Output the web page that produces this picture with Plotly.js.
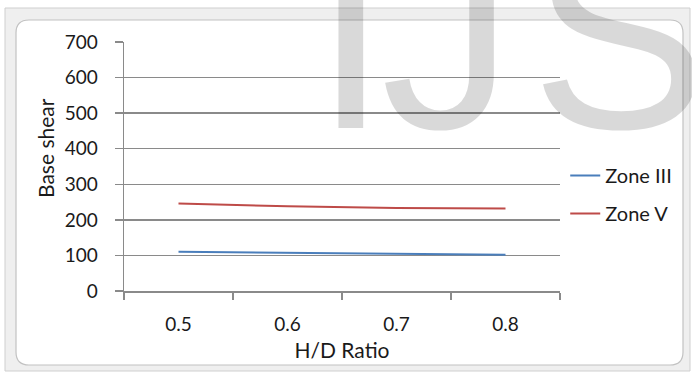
<!DOCTYPE html>
<html>
<head>
<meta charset="utf-8">
<script src="https://cdn.plot.ly/plotly-3.0.1.min.js"></script>
<style>html,body{margin:0;padding:0;background:#fff;}#chart{width:692px;height:374px;}</style>
</head>
<body>
<div id="chart"></div>
<script>
// Data
const hdRatio = [0.5, 0.6, 0.7, 0.8];
const zoneIII = [110, 108, 104, 102];
const zoneV = [246, 238, 233, 232];
const seriesNames = ["Zone III", "Zone V"];
const yTicks = [0, 100, 200, 300, 400, 500, 600, 700];
const xTickLabels = ["0.5", "0.6", "0.7", "0.8"];
const categoryEdges = [0.45, 0.55, 0.65, 0.75, 0.85];
const watermarkLetters = ["I", "J", "S"];

const W = 692, H = 374;
const mL = 124, mR = 132, mT = 42, mB = 83;
const pw = W - mL - mR, ph = H - mT - mB;
const X = px => (px - mL) / pw;
const Y = py => (H - mB - py) / ph;

function roundRect(x0, y0, x1, y1, r) {
  const p = (x, y) => X(x) + ',' + Y(y);
  return 'M' + p(x0 + r, y0) + ' L' + p(x1 - r, y0) + ' Q' + p(x1, y0) + ' ' + p(x1, y0 + r) +
    ' L' + p(x1, y1 - r) + ' Q' + p(x1, y1) + ' ' + p(x1 - r, y1) +
    ' L' + p(x0 + r, y1) + ' Q' + p(x0, y1) + ' ' + p(x0, y1 - r) +
    ' L' + p(x0, y0 + r) + ' Q' + p(x0, y0) + ' ' + p(x0 + r, y0) + ' Z';
}

const font = "Lato, 'Open Sans', sans-serif";
const gridColor = "#8a8a8a";
const textColor = "#1a1a1a";

const traces = [
  {x: hdRatio, y: zoneIII, name: seriesNames[0], type: "scatter", mode: "lines",
   line: {color: "#4A7EBB", width: 2}, legendgroup: "a"},
  {x: hdRatio, y: zoneV, name: seriesNames[1], type: "scatter", mode: "lines",
   line: {color: "#BE4B48", width: 2}, legendgroup: "b"}
];

const wmCenters = [351, 447, 619];
const wmAnnotations = watermarkLetters.map((t, i) => ({
  text: t, xref: "paper", yref: "paper", x: X(wmCenters[i]), y: Y(186),
  xanchor: "center", yanchor: "bottom", showarrow: false,
  font: {family: "'Liberation Sans', Arial, sans-serif", size: 265, color: "rgba(0,0,0,0.15)"}
}));

const layout = {
  width: W, height: H,
  margin: {l: mL, r: mR, t: mT, b: mB, pad: 0},
  paper_bgcolor: "#ffffff",
  plot_bgcolor: "rgba(0,0,0,0)",
  font: {family: font, size: 19, color: textColor},
  showlegend: true,
  legend: {x: 1.012, xanchor: "left", y: Y(156), yanchor: "top",
           bgcolor: "rgba(0,0,0,0)", font: {family: font, size: 20, color: textColor},
           traceorder: "grouped", tracegroupgap: 9, itemwidth: 30},
  xaxis: {
    range: [0.45, 0.85], tickmode: "array", tickvals: hdRatio, ticktext: xTickLabels,
    ticks: "outside", ticklen: 16, tickcolor: "rgba(0,0,0,0)",
    showgrid: false, zeroline: false, showline: true, linecolor: gridColor, linewidth: 1.5,
    minor: {tickmode: "array", tickvals: categoryEdges, ticks: "outside", ticklen: 7,
            tickcolor: gridColor, tickwidth: 1.5, showgrid: false},
    tickfont: {family: font, size: 19, color: textColor},
    title: {text: "H/D Ratio", font: {family: font, size: 21, color: textColor}, standoff: 9},
    fixedrange: true
  },
  yaxis: {
    range: [0, 700], tickmode: "array", tickvals: yTicks,
    ticks: "outside", ticklen: 8, tickcolor: gridColor, tickwidth: 1.5,
    showgrid: true, gridcolor: gridColor, gridwidth: 1.5, zeroline: false,
    showline: true, linecolor: gridColor, linewidth: 1.5,
    ticklabelstandoff: 13,
    tickfont: {family: font, size: 19, color: textColor},
    fixedrange: true
  },
  shapes: [
    {type: "rect", xref: "paper", yref: "paper", x0: X(5), x1: X(690), y0: Y(8), y1: Y(371),
     fillcolor: "#efefef", line: {color: "#cfcfcf", width: 1}, layer: "below"},
    {type: "path", xref: "paper", yref: "paper", path: roundRect(16, 20, 683, 365, 13),
     fillcolor: "#ffffff", line: {color: "#c2c2c2", width: 1.2}, layer: "below"}
  ],
  annotations: [
    {text: "Base shear", xref: "paper", yref: "paper", x: X(45), y: Y(148),
     xanchor: "center", yanchor: "middle", textangle: -90, showarrow: false,
     font: {family: font, size: 21, color: textColor}}
  ].concat(wmAnnotations)
};

Plotly.newPlot("chart", traces, layout, {displayModeBar: false, staticPlot: true});
</script>
</body>
</html>
